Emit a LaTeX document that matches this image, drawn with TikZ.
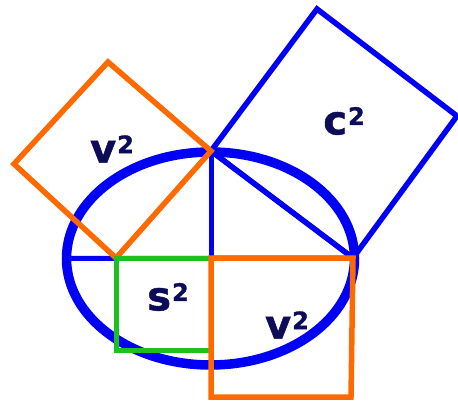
\documentclass[tikz,border=0pt]{standalone}
\usepackage{fontspec}
\setmainfont{DejaVu Sans}[BoldFeatures={FakeBold=1.2}]
\usepackage{xcolor}
\usetikzlibrary{shapes.geometric}
\definecolor{figblue}{HTML}{0000F5}
\definecolor{figorange}{HTML}{FF6A00}
\definecolor{figgreen}{HTML}{1EC01E}
\definecolor{figink}{HTML}{0C0C58}
\newcommand{\sqr}[1]{#1\hspace{1pt}\raisebox{9.5pt}{\fontsize{24}{24}\selectfont 2}}

\begin{document}
\begin{tikzpicture}[
    x=1pt, y=-1pt,
    rim/.style={ellipse, draw=figblue, line width=9.5pt, inner sep=0pt, outer sep=0pt,
      minimum width=288pt, minimum height=213pt},
    bwire/.style={draw=figblue, line width=5pt},
    bsq/.style={draw=figblue, line width=5.5pt, line join=miter},
    osq/.style={draw=figorange, line width=5.5pt, line join=miter},
    gsq/.style={draw=figgreen, line width=5pt, line join=miter},
    sqlbl/.style={font=\fontsize{40}{40}\selectfont\bfseries, text=figink, inner sep=0pt},
  ]
  \useasboundingbox (0,0) rectangle (458,404);

  % ================= ellipse and the right triangle inside it
  \node[rim] (ell) at (210.5,258.5) {};
  \coordinate (L) at (116,258);
  \coordinate (A) at (211,151);
  \coordinate (R) at (353,258);
  \coordinate (F) at (211,258);
  \draw[bwire] (ell.west) -- (R);
  \draw[bwire] (A) -- (F);
  \draw[bwire] (A) -- (R);

  % ================= square on the hypotenuse
  \coordinate (c1) at (317,9);
  \coordinate (c2) at (457,116);
  \draw[bsq] (A) -- (c1) -- (c2) -- (R) -- cycle;

  % ================= square on the left leg
  \coordinate (v1) at (108,62);
  \coordinate (v2) at (14,164);
  \draw[osq] (L) -- (A) -- (v1) -- (v2) -- cycle;

  % ================= squares below the base
  \coordinate (s1) at (116,350);
  \coordinate (s2) at (209,350);
  \draw[gsq] (s2) -- (s1) -- (L) -- (F);
  \coordinate (w1) at (211,397);
  \coordinate (w2) at (351,397);
  \draw[osq] (F) -- (w1) -- (w2) -- (R) -- cycle;

  % ================= labels
  \node[sqlbl] (lv) at (112,149) {\sqr{v}};
  \node[sqlbl] (lc) at (344,121) {\sqr{c}};
  \node[sqlbl] (ls) at (168,297) {\sqr{s}};
  \node[sqlbl] (lw) at (287,325) {\sqr{v}};
\end{tikzpicture}
\end{document}
